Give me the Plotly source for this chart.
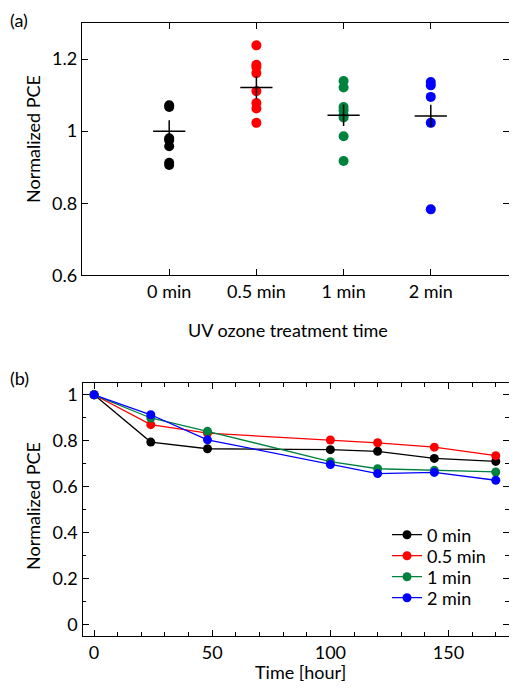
import plotly.graph_objects as go

# ---- Panel (a) data ----
categories = ["0 min", "0.5 min", "1 min", "2 min"]
cat_pos = [1, 2, 3, 4]
pts_0 = [1.072, 1.067, 0.980, 0.975, 0.958, 0.912, 0.906]
pts_05 = [1.238, 1.184, 1.178, 1.161, 1.111, 1.078, 1.063, 1.023]
pts_1 = [1.139, 1.121, 1.067, 1.058, 1.044, 1.038, 0.986, 0.917]
pts_2 = [1.136, 1.127, 1.095, 1.023, 0.783]
means = [1.000, 1.121, 1.044, 1.042]
errs = [0.030, 0.031, 0.030, 0.031]

# ---- Panel (b) data ----
hours = [0, 24, 48, 100, 120, 144, 170]
pce_0 = [1.0, 0.794, 0.765, 0.761, 0.754, 0.723, 0.710]
pce_05 = [1.0, 0.870, 0.833, 0.803, 0.791, 0.772, 0.735]
pce_1 = [1.0, 0.899, 0.841, 0.709, 0.678, 0.671, 0.664]
pce_2 = [1.0, 0.913, 0.804, 0.696, 0.657, 0.662, 0.628]
series_names = ["0 min", "0.5 min", "1 min", "2 min"]

colors = ["#000000", "#ff0000", "#00823f", "#0000ff"]
FONT = "Lato"
FS = 18

OFF = 8  # page body margin
W, H = 517 - 2 * OFF, 691 - 2 * OFF

def px(v):
    return (v - OFF) / W

def py(v):
    return 1 - (v - OFF) / H

fig = go.Figure()

groups = [pts_0, pts_05, pts_1, pts_2]
for i, g in enumerate(groups):
    fig.add_trace(go.Scatter(
        x=[cat_pos[i]] * len(g), y=g, mode="markers",
        marker=dict(color=colors[i], size=10),
        showlegend=False, xaxis="x", yaxis="y"))

fig.add_trace(go.Scatter(
    x=cat_pos, y=means, mode="markers",
    marker=dict(symbol="line-ew", size=23, line=dict(color="black", width=1.5)),
    error_y=dict(type="data", array=errs, color="black", thickness=1.5, width=0),
    showlegend=False, xaxis="x", yaxis="y"))

legend_names = ["legend", "legend2", "legend3", "legend4"]
legend_y = [535, 556, 577, 598]
for name, vals, c, lg in zip(series_names, [pce_0, pce_05, pce_1, pce_2], colors, legend_names):
    fig.add_trace(go.Scatter(
        x=hours, y=vals, mode="lines+markers", name=name,
        line=dict(color=c, width=1.3),
        marker=dict(color=c, size=9),
        legend=lg, xaxis="x2", yaxis="y2"))

axis_common = dict(
    showline=True, linecolor="black", linewidth=1.3, mirror="ticks",
    ticks="inside", ticklen=6, tickwidth=1.2, tickcolor="black",
    showgrid=False, zeroline=False, automargin=False,
    tickfont=dict(family=FONT, size=FS, color="black"),
)

layout_legends = {}
for lg, yy in zip(legend_names, legend_y):
    layout_legends[lg] = dict(
        x=px(387), y=py(yy), xanchor="left", yanchor="middle",
        bgcolor="rgba(0,0,0,0)", borderwidth=0,
        font=dict(family=FONT, size=FS, color="black"))

fig.update_layout(
    template="none",
    width=W, height=H,
    margin=dict(l=0, r=0, t=0, b=0, pad=0),
    paper_bgcolor="white", plot_bgcolor="white",
    font=dict(family=FONT, size=FS, color="black"),
    xaxis=dict(domain=[px(82), 1.0], range=[0, 4.897], anchor="y",
               tickvals=cat_pos, ticktext=categories, **axis_common),
    yaxis=dict(domain=[py(275.3), py(23)], range=[0.6, 1.3], anchor="x",
               tickvals=[0.6, 0.8, 1.0, 1.2], ticktext=["0.6", "0.8", "1", "1.2"],
               **axis_common),
    xaxis2=dict(domain=[px(82.5), 1.0], range=[-4.9, 175.6], anchor="y2",
                tickvals=[0, 50, 100, 150],
                minor=dict(dtick=10, tick0=0, ticks="inside", ticklen=3.5,
                           tickcolor="black", tickwidth=1.2, showgrid=False),
                **axis_common),
    yaxis2=dict(domain=[py(636), py(383.3)], range=[-0.05, 1.05], anchor="x2",
                tickvals=[0, 0.2, 0.4, 0.6, 0.8, 1.0],
                ticktext=["0", "0.2", "0.4", "0.6", "0.8", "1"],
                minor=dict(dtick=0.1, tick0=0, ticks="inside", ticklen=3.5,
                           tickcolor="black", tickwidth=1.2, showgrid=False),
                **axis_common),
    **layout_legends,
)

annots = [
    dict(text="(a)", x=19, y=20),
    dict(text="(b)", x=19, y=378),
    dict(text="UV ozone treatment time", x=288, y=330),
    dict(text="Time [hour]", x=300, y=672),
    dict(text="Normalized PCE", x=33, y=139, textangle=-90),
    dict(text="Normalized PCE", x=33, y=506, textangle=-90),
]
for a in annots:
    fig.add_annotation(
        text=a["text"], x=px(a["x"]), y=py(a["y"]), xref="paper", yref="paper",
        xanchor="center", yanchor="middle", showarrow=False,
        textangle=a.get("textangle", 0),
        font=dict(family=FONT, size=FS, color="black"))

fig.write_html("out.html")
